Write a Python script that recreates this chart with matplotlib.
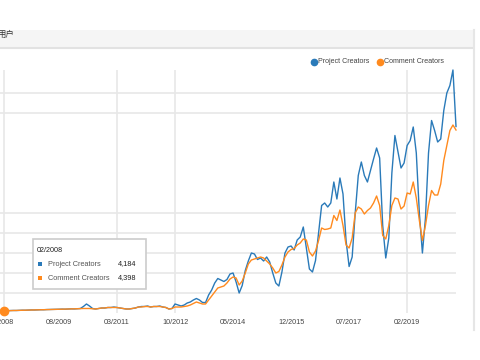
import numpy as np
import pandas as pd
import matplotlib
matplotlib.use('Agg')
import matplotlib.pyplot as plt
from matplotlib.patches import Rectangle

plt.rcParams['font.family'] = ['Liberation Sans', 'Noto Sans CJK SC', 'DejaVu Sans']

# monthly values (thousands), first month 02/2008
start = '2008-02'
project_creators = [
    4.184, 4.6, 4.9, 5.1, 5.0, 5.4, 5.6, 5.5, 5.9, 6.1, 6.0, 6.4,
    6.6, 6.5, 6.9, 7.0, 7.3, 7.1, 7.5, 7.8, 7.6, 8.0, 8.3, 8.1,
    8.6, 9.0, 13, 18, 14, 9, 8, 9, 10, 10, 11, 11,
    12, 11, 10, 9, 8, 8, 9, 10, 12, 13, 13, 14,
    12, 13, 13, 14, 12, 11, 8, 9, 18, 16, 14, 16,
    20, 22, 26, 29, 26, 21, 21, 36, 46, 60, 69, 66,
    63, 67, 78, 80, 62, 40, 55, 85, 104, 120, 118, 107,
    110, 104, 112, 102, 80, 60, 54, 82, 120, 132, 134, 126,
    146, 152, 172, 130, 88, 82, 105, 160, 215, 220, 212, 220,
    262, 228, 270, 238, 145, 93, 112, 200, 275, 302, 275, 262,
    285, 308, 330, 310, 175, 110, 150, 280, 355, 322, 290, 300,
    335, 345, 372, 320, 200, 120, 190, 320, 385, 365, 342, 348,
    405, 440, 455, 486, 373,
]
comment_creators = [
    4.398, 4.6, 4.8, 5.0, 5.1, 5.3, 5.5, 5.6, 5.8, 6.0, 6.1, 6.3,
    6.5, 6.6, 6.8, 7.0, 7.1, 7.3, 7.5, 7.6, 7.8, 8.0, 8.1, 8.3,
    8.5, 8.8, 9, 9, 9, 8.5, 8, 9, 10, 10, 11, 11,
    11, 11, 10, 9, 8, 8, 9, 10, 12, 12, 13, 13,
    12, 13, 13, 13, 12, 11, 8, 9, 12, 12, 12, 13,
    14, 16, 19, 22, 20, 18, 18, 26, 34, 42, 50, 52,
    54, 60, 68, 72, 70, 56, 64, 80, 98, 106, 108, 110,
    112, 110, 104, 98, 90, 80, 83, 96, 112, 122, 127, 129,
    136, 140, 148, 146, 122, 114, 124, 145, 170, 167, 168, 170,
    195, 185, 206, 175, 136, 130, 150, 200, 212, 208, 198, 205,
    210, 220, 234, 215, 155, 148, 175, 215, 230, 228, 208, 214,
    240, 238, 262, 230, 185, 145, 175, 215, 245, 236, 236, 258,
    305, 335, 365, 376, 366,
]
tick_labels = ['01/2008', '08/2009', '03/2011', '10/2012', '05/2014',
               '12/2015', '07/2017', '02/2019']
vgrid_labels = ['02/2008', '03/2011', '10/2012', '02/2019']
hgrid_values = [40, 80, 120, 160, 200, 400, 440]
tip_month = '02/2008'
tip_values = [4184, 4398]
series_names = ['Project Creators', 'Comment Creators']
colors = ['#2a7ab9', '#ff8a1e']

p0 = pd.Period(start, freq='M')
def month_idx(lbl):
    mm, yy = lbl.split('/')
    return (pd.Period(f'{yy}-{mm}', freq='M') - p0).n

x = np.arange(len(project_creators))

fig = plt.figure(figsize=(4.8, 3.6), dpi=100)
ax = fig.add_axes([0, 47 / 360, 456 / 480, 243 / 360])
scale = 452 / 148
ax.set_xlim(-4 / scale, 148)
ax.set_ylim(0, 486)
for s in ax.spines.values():
    s.set_visible(False)

for v in hgrid_values:
    ax.axhline(v, color='#e8e8e8', lw=1.2, zorder=0)
for lbl in vgrid_labels:
    ax.axvline(month_idx(lbl), color='#e8e8e8', lw=1.2, zorder=0)

ax.plot(x, project_creators, color=colors[0], lw=1.0, clip_on=False, zorder=3)
ax.plot(x, comment_creators, color=colors[1], lw=1.0, clip_on=False, zorder=4)
ax.plot([0], [comment_creators[0]], 'o', color=colors[1], ms=6, clip_on=False, zorder=5)

ax.set_xticks([month_idx(t) for t in tick_labels])
ax.set_xticklabels(tick_labels, fontsize=5.2, color='#444444')
ax.tick_params(axis='x', length=0, pad=4)
ax.set_yticks([])

# overlay in pixel coordinates for page decorations
ov = fig.add_axes([0, 0, 1, 1], facecolor='none')
ov.set_xlim(0, 480)
ov.set_ylim(360, 0)
ov.axis('off')

ov.add_patch(Rectangle((0, 30), 473, 17, facecolor='#f5f5f5', edgecolor='none'))
ov.plot([0, 473], [47.5, 47.5], color='#e2e2e2', lw=1.5)
ov.plot([473.5, 473.5], [30, 330], color='#e6e6e6', lw=1.5)
ov.text(14, 34.5, '用户', fontsize=6, color='#333333', ha='right', va='center')

# legend
lx = [314, 380]
for i in range(2):
    ov.plot(lx[i], 61.5, 'o', color=colors[i], ms=4.5)
    ov.text(lx[i] + 4, 61.5, series_names[i], fontsize=5.1, color='#444444',
            ha='left', va='center')

# tooltip
ov.add_patch(Rectangle((33, 239), 113, 50, facecolor='white', edgecolor='#cccccc',
                       lw=1.2, zorder=6))
ov.text(37, 250, tip_month, fontsize=5.2, color='#222222', va='center', zorder=7)
for i, yy in enumerate([264, 278]):
    ov.add_patch(Rectangle((38, yy - 2), 4, 4, facecolor=colors[i], edgecolor='none', zorder=7))
    ov.text(48, yy, series_names[i], fontsize=5.3, color='#555555', va='center', zorder=7)
    ov.text(136, yy, f'{tip_values[i]:,}', fontsize=5.3, color='#222222',
            ha='right', va='center', zorder=7)

fig.savefig('out.png', dpi=100)
